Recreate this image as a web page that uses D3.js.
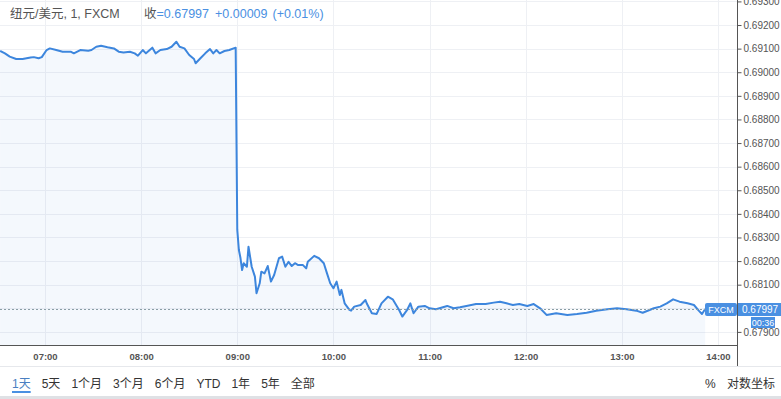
<!DOCTYPE html>
<html>
<head>
<meta charset="utf-8">
<script src="https://cdn.jsdelivr.net/npm/d3@7"></script>
<style>
body { margin: 0; background: #fff; }
svg { display: block; font-family: "Liberation Sans", "Noto Sans CJK SC", sans-serif; }
</style>
</head>
<body>
<script>
//price series, 1 minute bars
var times = ["06:32","06:35","06:38","06:42","06:46","06:51","06:53","06:56","06:58","07:01",
	"07:03","07:07","07:11","07:16","07:18","07:22","07:27","07:29","07:32","07:35",
	"07:39","07:43","07:46","07:49","07:53","07:56","07:58","08:01","08:03","08:07",
	"08:09","08:12","08:16","08:19","08:22","08:24","08:27","08:30","08:33","08:34",
	"08:37","08:40","08:43","08:45","08:47","08:49","08:52","08:55","08:59","09:00",
	"09:01","09:02","09:03","09:04","09:06","09:07","09:09","09:11","09:12","09:14",
	"09:15","09:17","09:19","09:21","09:23","09:26","09:28","09:30","09:32","09:34",
	"09:36","09:38","09:41","09:43","09:44","09:48","09:51","09:54","09:56","09:58",
	"10:00","10:02","10:04","10:05","10:07","10:10","10:11","10:13","10:17","10:20",
	"10:21","10:24","10:27","10:30","10:34","10:37","10:41","10:43","10:46","10:48",
	"10:50","10:53","10:57","11:00","11:04","11:11","11:15","11:19","11:23","11:29",
	"11:35","11:40","11:44","11:48","11:52","11:56","12:01","12:05","12:09","12:13",
	"12:19","12:26","12:32","12:38","12:44","12:51","12:57","13:03","13:09","13:13",
	"13:20","13:24","13:28","13:32","13:36","13:41","13:45","13:48","13:50","13:52"];
var values = [0.69090,0.69080,0.69066,0.69056,0.69056,0.69062,0.69064,0.69059,0.69064,0.69094,
	0.69101,0.69094,0.69087,0.69087,0.69080,0.69094,0.69091,0.69094,0.69108,0.69112,
	0.69106,0.69101,0.69087,0.69084,0.69087,0.69080,0.69070,0.69094,0.69080,0.69104,
	0.69080,0.69094,0.69098,0.69108,0.69129,0.69108,0.69101,0.69073,0.69056,0.69038,
	0.69059,0.69080,0.69098,0.69080,0.69094,0.69080,0.69090,0.69094,0.69104,0.68332,
	0.68247,0.68213,0.68162,0.68191,0.68176,0.68261,0.68176,0.68134,0.68064,0.68106,
	0.68155,0.68148,0.68179,0.68113,0.68141,0.68212,0.68219,0.68176,0.68197,0.68179,
	0.68191,0.68183,0.68183,0.68169,0.68197,0.68222,0.68212,0.68191,0.68148,0.68106,
	0.68085,0.68113,0.68056,0.68078,0.68021,0.67993,0.67990,0.68007,0.68014,0.68035,
	0.68018,0.67979,0.67976,0.68021,0.68049,0.68038,0.67993,0.67965,0.67993,0.68021,
	0.67979,0.68007,0.68010,0.68000,0.67996,0.68010,0.68000,0.68004,0.68010,0.68018,
	0.68018,0.68024,0.68028,0.68021,0.68014,0.68018,0.68010,0.68018,0.68000,0.67972,
	0.67979,0.67972,0.67976,0.67981,0.67990,0.67996,0.68000,0.67996,0.67990,0.67981,
	0.68000,0.68007,0.68021,0.68038,0.68028,0.68021,0.68014,0.67990,0.67976,0.67997];

var yTicks = [0.679,0.680,0.681,0.682,0.683,0.684,0.685,0.686,0.687,0.688,0.689,0.690,0.691,0.692,0.693];
var xTicks = ["07:00","08:00","09:00","10:00","11:00","12:00","13:00","14:00"];
var buttons = ["1天","5天","1个月","3个月","6个月","YTD","1年","5年","全部"];
var title = "纽元/美元, 1, FXCM";
var lastPrice = 0.67997, change = 0.00009, changePct = "+0.01%";
var symbol = "FXCM", countdown = "00:36";

var width = 781, height = 399;
var plotW = 737, plotH = 345;
var blue = "#4a90e2", lineBlue = "#3d86dd";

var parseT = d3.timeParse("%H:%M");
var data = times.map(function(t, i){ return {t: parseT(t), v: values[i]}; });

var svg = d3.select("body").append("svg")
	.attr("width", width)
	.attr("height", height);

var x = d3.scaleTime()
	.domain([d3.timeParse("%H:%M:%S")("06:31:55"), d3.timeParse("%H:%M:%S")("14:11:52")])
	.range([0, plotW]);

var y = d3.scaleLinear()
	.domain([0.69306, 0.678445])
	.range([0, plotH]);

//grid
svg.append("g").selectAll("line")
	.data(yTicks).enter().append("line")
	.attr("x1", 0).attr("x2", plotW)
	.attr("y1", function(d){ return Math.round(y(d)) + 0.5; })
	.attr("y2", function(d){ return Math.round(y(d)) + 0.5; })
	.attr("stroke", "#eef0f4");
svg.append("g").selectAll("line")
	.data(xTicks).enter().append("line")
	.attr("x1", function(d){ return Math.round(x(parseT(d))) + 0.5; })
	.attr("x2", function(d){ return Math.round(x(parseT(d))) + 0.5; })
	.attr("y1", 0).attr("y2", plotH)
	.attr("stroke", "#eef0f4");

//area + line
var area = d3.area()
	.x(function(d){ return x(d.t); })
	.y0(plotH)
	.y1(function(d){ return y(d.v); });
svg.append("path").datum(data)
	.attr("d", area)
	.attr("fill", "rgba(74,144,226,0.06)");

var line = d3.line()
	.x(function(d){ return x(d.t); })
	.y(function(d){ return y(d.v); });
svg.append("path").datum(data)
	.attr("d", line)
	.attr("fill", "none")
	.attr("stroke", lineBlue)
	.attr("stroke-width", 2)
	.attr("stroke-linejoin", "round");

//last price line
svg.append("line")
	.attr("x1", 0).attr("x2", plotW)
	.attr("y1", Math.round(y(lastPrice)) + 0.5)
	.attr("y2", Math.round(y(lastPrice)) + 0.5)
	.attr("stroke", "#8a9ea6")
	.attr("stroke-dasharray", "2,2");

//header
svg.append("text")
	.attr("x", 10).attr("y", 18)
	.attr("font-size", 12.5)
	.attr("fill", "#555")
	.text(title);
var head2 = svg.append("text")
	.attr("x", 144).attr("y", 18)
	.attr("font-size", 12.5);
head2.append("tspan").attr("fill", "#555").text("收");
head2.append("tspan").attr("fill", blue).text("=" + d3.format(".5f")(lastPrice));
head2.append("tspan").attr("fill", blue).attr("dx", 6).text("+" + d3.format(".5f")(change));
head2.append("tspan").attr("fill", blue).attr("dx", 5).text("(" + changePct + ")");

//right axis
var yAxis = d3.axisRight(y)
	.tickValues(yTicks)
	.tickFormat(d3.format(".5f"))
	.tickSize(4)
	.tickPadding(2);
var ya = svg.append("g")
	.attr("transform", "translate(" + (plotW + 0.5) + ",0)")
	.call(yAxis);
ya.select(".domain").remove();
ya.selectAll("line").attr("stroke", "#555");
ya.selectAll("text").attr("fill", "#555").attr("font-size", 10).attr("font-family", "Liberation Sans");

//bottom axis
var xAxis = d3.axisBottom(x)
	.tickValues(xTicks.map(parseT))
	.tickFormat(d3.timeFormat("%H:%M"))
	.tickSize(0)
	.tickPadding(8);
var xa = svg.append("g")
	.attr("transform", "translate(0," + (plotH + 0.5) + ")")
	.call(xAxis);
xa.select(".domain").remove();
xa.selectAll("text").attr("fill", "#555").attr("font-size", 9.5).attr("font-weight", "bold").attr("font-family", "Liberation Sans");

svg.append("line")
	.attr("x1", 0).attr("x2", plotW)
	.attr("y1", plotH + 0.5).attr("y2", plotH + 0.5)
	.attr("stroke", "#555");
svg.append("line")
	.attr("x1", plotW + 0.5).attr("x2", plotW + 0.5)
	.attr("y1", 0).attr("y2", 367)
	.attr("stroke", "#555");
svg.append("line")
	.attr("x1", 0).attr("x2", width)
	.attr("y1", 366.5).attr("y2", 366.5)
	.attr("stroke", "#e6e8ec");

//price labels
var py = Math.round(y(lastPrice));
svg.append("rect")
	.attr("x", 705).attr("y", py - 6).attr("width", plotW - 705).attr("height", 13)
	.attr("rx", 2).attr("fill", blue);
svg.append("text")
	.attr("x", 721).attr("y", py + 4).attr("text-anchor", "middle")
	.attr("font-size", 9).attr("fill", "#fff").text(symbol);
svg.append("rect")
	.attr("x", plotW + 1).attr("y", py - 6).attr("width", width - plotW - 1).attr("height", 13)
	.attr("fill", blue);
svg.append("text")
	.attr("x", 742).attr("y", py + 4)
	.attr("font-size", 10).attr("fill", "#fff").text(d3.format(".5f")(lastPrice));
svg.append("rect")
	.attr("x", 751).attr("y", py + 8).attr("width", 24).attr("height", 11)
	.attr("fill", blue);
svg.append("text")
	.attr("x", 763).attr("y", py + 17).attr("text-anchor", "middle")
	.attr("font-size", 9).attr("fill", "#fff").text(countdown);

//bottom toolbar
var bx = 12;
buttons.forEach(function(b, i){
	var t = svg.append("text")
		.attr("x", bx).attr("y", 388)
		.attr("font-size", 12)
		.attr("fill", i === 0 ? "#4a7fc1" : "#333")
		.text(b);
	var w = t.node().getComputedTextLength();
	if (i === 0) {
		svg.append("rect")
			.attr("x", bx).attr("y", 391).attr("width", w).attr("height", 2)
			.attr("fill", blue);
	}
	bx += w + 11;
});
svg.append("text")
	.attr("x", 705).attr("y", 388).attr("font-size", 12).attr("fill", "#333").text("%");
svg.append("text")
	.attr("x", 727).attr("y", 388).attr("font-size", 12).attr("fill", "#333").text("对数坐标");
svg.append("rect")
	.attr("x", 0).attr("y", 396).attr("width", width).attr("height", 3)
	.attr("fill", "#dfe1e5");
</script>
</body>
</html>
